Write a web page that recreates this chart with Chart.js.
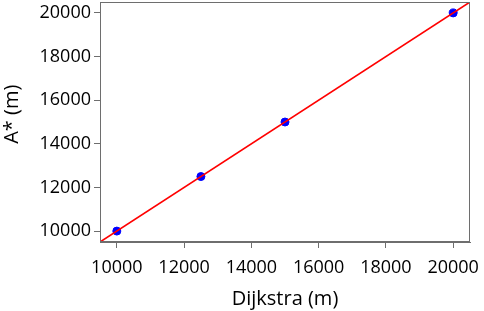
<!DOCTYPE html>
<html>
<head>
<meta charset="utf-8">
<script src="https://cdn.jsdelivr.net/npm/chart.js@4"></script>
<style>
html,body{margin:0;padding:0;background:#fff;}
#wrap{width:484px;height:311px;position:relative;}
</style>
</head>
<body>
<div id="wrap"><canvas id="c"></canvas></div>
<script>
const dijkstra = [10000, 12500, 15000, 20000];
const aStar = [10000, 12500, 15000, 20000];
const fitLineX = [9500, 20500];
const fitLineY = [9500, 20500];
const xTicks = [10000, 12000, 14000, 16000, 18000, 20000];
const yTicks = [10000, 12000, 14000, 16000, 18000, 20000];
const xTitle = 'Dijkstra (m)';
const yTitle = 'A* (m)';

const FONT = "'Open Sans', sans-serif";

const frame = {
  id: 'frame',
  afterDatasetsDraw(chart) {
    const a = chart.chartArea, ctx = chart.ctx;
    ctx.save();
    ctx.strokeStyle = '#6e6e6e';
    ctx.lineWidth = 1;
    ctx.strokeRect(Math.round(a.left) + 0.5, Math.round(a.top) + 0.5, Math.round(a.right - a.left) - 1, Math.round(a.bottom - a.top) - 1);
    ctx.restore();
  }
};

new Chart(document.getElementById('c'), {
  type: 'scatter',
  data: {
    datasets: [
      {
        label: 'points',
        data: dijkstra.map((x, i) => ({x, y: aStar[i]})),
        backgroundColor: '#0000ff',
        borderColor: '#0000ff',
        pointRadius: 4,
        order: 2
      },
      {
        label: 'y = x',
        type: 'line',
        data: fitLineX.map((x, i) => ({x, y: fitLineY[i]})),
        borderColor: '#ff0000',
        borderWidth: 1.6,
        pointRadius: 0,
        fill: false,
        order: 1
      }
    ]
  },
  options: {
    responsive: true,
    maintainAspectRatio: false,
    animation: false,
    layout: {autoPadding: false, padding: {left: 0, right: 14, top: 2, bottom: 0}},
    plugins: {legend: {display: false}, tooltip: {enabled: false}},
    scales: {
      x: {
        type: 'linear',
        min: 9500, max: 20500,
        afterBuildTicks: s => { s.ticks = xTicks.map(v => ({value: v})); },
        afterFit: s => { s.height = 69; s.paddingLeft = 0; s.paddingRight = 0; },
        grid: {drawOnChartArea: false, drawTicks: true, tickLength: 6, color: '#6e6e6e'},
        border: {display: true, color: '#6e6e6e'},
        ticks: {color: '#000', font: {family: FONT, size: 18}, padding: 9, maxRotation: 0, autoSkip: false, callback: v => String(v)},
        title: {display: true, text: xTitle, color: '#000', font: {family: FONT, size: 20}, padding: {top: 0, bottom: 0}}
      },
      y: {
        type: 'linear',
        min: 9500, max: 20500,
        afterBuildTicks: s => { s.ticks = yTicks.map(v => ({value: v})); },
        afterFit: s => { s.width = 100; s.paddingTop = 0; s.paddingBottom = 0; },
        grid: {drawOnChartArea: false, drawTicks: true, tickLength: 6, color: '#6e6e6e'},
        border: {display: true, color: '#6e6e6e'},
        ticks: {color: '#000', font: {family: FONT, size: 18}, padding: 3, autoSkip: false, callback: v => String(v)},
        title: {display: true, text: '   ' + yTitle, color: '#000', font: {family: FONT, size: 20}, padding: {top: 0, bottom: 0}}
      }
    }
  },
  plugins: [frame]
});
</script>
</body>
</html>
